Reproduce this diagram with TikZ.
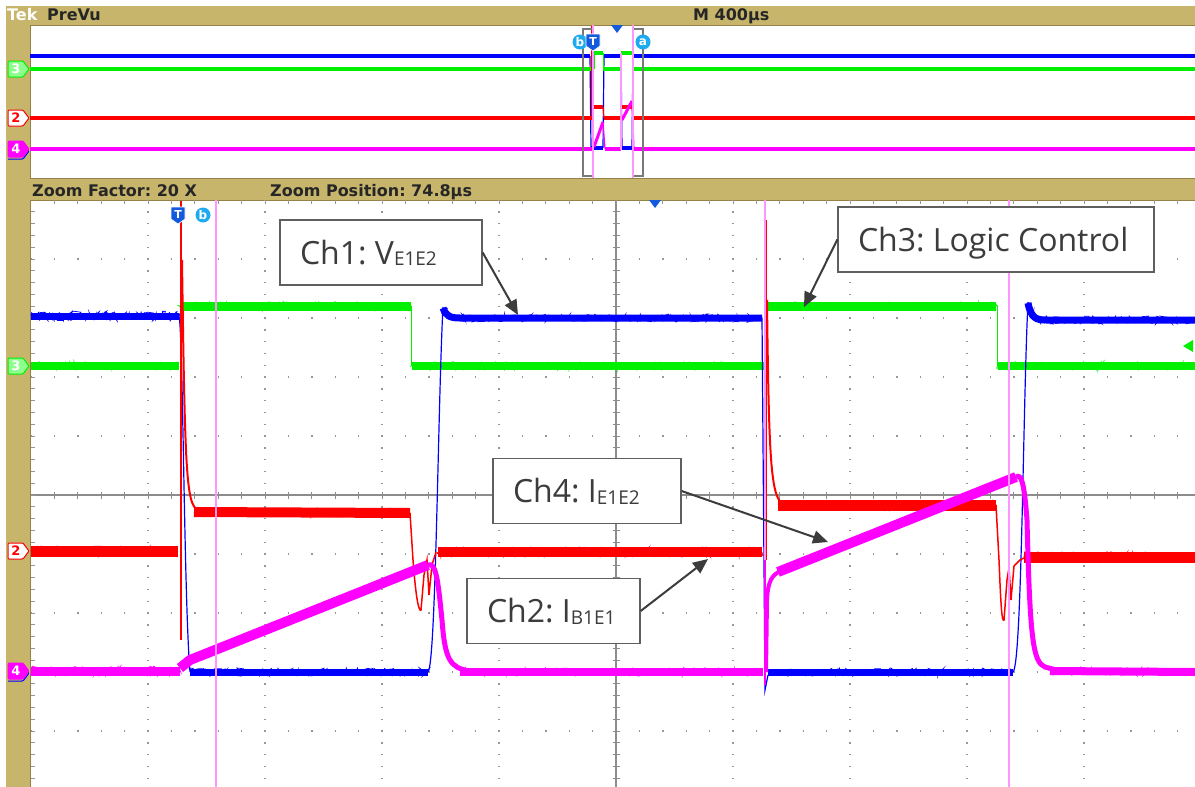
\documentclass[tikz,border=0pt]{standalone}
\usepackage{fontspec}
\setmainfont{Open Sans}
\newfontfamily\tekfont{DejaVu Sans}
\usetikzlibrary{arrows.meta,decorations.pathmorphing}
\definecolor{scopetan}{RGB}{199,181,108}
\definecolor{scopeedge}{RGB}{150,130,70}
\definecolor{chblue}{RGB}{0,0,255}
\definecolor{chgreen}{RGB}{0,240,0}
\definecolor{chred}{RGB}{255,0,0}
\definecolor{chmag}{RGB}{255,0,255}
\definecolor{pinkcur}{RGB}{255,150,255}
\definecolor{gridgray}{RGB}{150,150,150}
\definecolor{centergray}{RGB}{140,140,140}
\definecolor{annotext}{RGB}{60,60,60}
\definecolor{annotedge}{RGB}{95,95,95}
\definecolor{marklblue}{RGB}{30,170,240}
\definecolor{markdblue}{RGB}{20,90,220}
\definecolor{bracketgray}{RGB}{120,120,120}
\newcommand\bandline[4]{%
  \draw[#1,line width=#2] #4;
  \draw[#1,line width=0.7pt,decorate,decoration={random steps,segment length=1.3pt,amplitude=#3}] #4;}
\newcommand\subtxt[1]{{\fontsize{19}{20}\selectfont\raisebox{-1.5pt}{#1}}}
\newcommand\chtag[6]{%
  \draw[fill=#2,draw=#3,line width=1pt,rounded corners=1pt] (8,#1-8) -- (23,#1-8) -- (29,#1) -- (23,#1+8) -- (8,#1+8) -- cycle;
  \node[tagtext,text=#4] (#6) at (16,#1) {#5};}
\newcommand\annbox[2]{\makebox[#1][l]{#2}}
\begin{document}
\frenchspacing
\begin{tikzpicture}[x=1pt,y=-1pt,
  tektext/.style={font=\tekfont\bfseries\fontsize{16}{18}\selectfont, inner sep=0pt, anchor=base west, text=black!85},
  tagtext/.style={font=\tekfont\bfseries\fontsize{13}{14}\selectfont, inner sep=0pt},
  annot/.style={draw=annotedge, line width=1.3pt, fill=white, text=annotext,
    font=\fontsize{32}{38}\selectfont\frenchspacing, inner xsep=20pt, inner ysep=0pt,
    text height=23pt, text depth=0pt, minimum height=65pt},
  annarrow/.style={draw=annotext, line width=2pt, -{Triangle[length=15pt,width=13pt]}},
  circmark/.style={circle, fill=marklblue, text=white, inner sep=0pt, minimum size=15pt,
    font=\tekfont\bfseries\fontsize{12}{12}\selectfont},
  gridv/.style={gridgray, line width=1.4pt, dash pattern=on 1.4pt off 10.4pt, dash phase=0.7pt},
  gridh/.style={gridgray, line width=1.4pt, dash pattern=on 1.4pt off 22pt, dash phase=0.7pt}]
\pgfmathsetseed{7}
\useasboundingbox (0,0) rectangle (1195,787);
\fill[white] (0,0) rectangle (1195,787);
% frame
\fill[scopetan] (6,6) rectangle (1195,200);
\fill[scopetan] (6,6) rectangle (30,787);
\fill[white] (30,25) rectangle (1195,178);
\draw[scopeedge,line width=0.8pt] (30,25) rectangle (1196,178);
\fill[white] (31,200) rectangle (1195,787);
\draw[scopeedge,line width=1pt] (1195,200) -- (30.5,200) -- (30.5,787);
% header texts
\node[tektext,text=white] (tek) at (7,20.5) {Tek};
\node[tektext] (prevu) at (47,20.5) {PreVu};
\node[tektext] (mtime) at (693,20.5) {M 400µs};
\node[tektext] (zf) at (32,196) {Zoom Factor: 20 X};
\node[tektext] (zp) at (270,196) {Zoom Position: 74.8µs};
% ---------- main graticule ----------
\foreach \k in {1,2,3,4,6,7,8,9}{\draw[gridv] ({31+117*\k},200) -- ({31+117*\k},787);}
\foreach \k in {1,2,3,4,6,7,8,9}{\draw[gridh] (31,{200+59*\k}) -- (1195,{200+59*\k});}
\draw[centergray,line width=1.2pt] (616,200) -- (616,787);
\draw[centergray,line width=1.2pt] (31,495) -- (1195,495);
\foreach \t in {1,...,49}{\draw[centergray,line width=1pt] (612.5,{200+11.8*\t}) -- (619.5,{200+11.8*\t});}
\foreach \t in {1,...,49}{\draw[centergray,line width=1pt] ({31+23.4*\t},491.5) -- ({31+23.4*\t},498.5);}
\foreach \t in {1,...,49}{\draw[gridgray,line width=1pt] ({31+23.4*\t},200) -- ({31+23.4*\t},204);}
\foreach \t in {1,...,49}{\draw[gridgray,line width=1pt] (31,{200+11.8*\t}) -- (35,{200+11.8*\t});}
% ---------- PreVu traces ----------
\draw[chblue,line width=4pt] (30,56) -- (590,56);
\draw[chblue,line width=1.2pt] (590,56) -- (591,148);
\draw[chblue,line width=4pt] (591,148) -- (603,148);
\draw[chblue,line width=1.2pt] (603,148) -- (604,56);
\draw[chblue,line width=4pt] (604,56) -- (621,56);
\draw[chblue,line width=1.2pt] (621,56) -- (622,148);
\draw[chblue,line width=4pt] (622,148) -- (632,148);
\draw[chblue,line width=1.2pt] (632,148) -- (633,56);
\draw[chblue,line width=4pt] (633,56) -- (1195,56);
\draw[chgreen,line width=4pt] (30,69) -- (594,69);
\draw[chgreen,line width=1pt] (594,69) -- (594,53);
\draw[chgreen,line width=4pt] (594,53) -- (603,53);
\draw[chgreen,line width=1pt] (603,53) -- (603,69);
\draw[chgreen,line width=4pt] (603,69) -- (621,69);
\draw[chgreen,line width=1pt] (621,69) -- (621,53);
\draw[chgreen,line width=4pt] (621,53) -- (632,53);
\draw[chgreen,line width=1pt] (632,53) -- (632,69);
\draw[chgreen,line width=4pt] (632,69) -- (1195,69);
\draw[chred,line width=4pt] (30,118) -- (593,118);
\draw[chred,line width=1.2pt] (592,26) -- (592,118);
\draw[chred,line width=4pt] (594,107) -- (603,107);
\draw[chred,line width=1.2pt] (603,107) -- (604,118);
\draw[chred,line width=4pt] (604,118) -- (621,118);
\draw[chred,line width=4pt] (622,107) -- (632,107);
\draw[chred,line width=1.2pt] (632,107) -- (633,118);
\draw[chred,line width=4pt] (633,118) -- (1195,118);
\draw[chmag,line width=4pt] (30,149) -- (593,149);
\draw[chmag,line width=3pt] (594,147) -- (603,122);
\draw[chmag,line width=1.2pt] (603,122) -- (605,149);
\draw[chmag,line width=4pt] (605,149) -- (621,149);
\draw[chmag,line width=3pt] (622,120) -- (632,101);
\draw[chmag,line width=1.2pt] (632,101) -- (634,149);
\draw[chmag,line width=4pt] (634,149) -- (1195,149);
\draw[pinkcur,line width=1.2pt] (593,25) -- (593,178);
\draw[pinkcur,line width=1.2pt] (633,25) -- (633,178);
\draw[pinkcur,line width=1.2pt] (621,53) -- (621,150);
% bracket
\draw[bracketgray,line width=1.3pt] (592,29) -- (583,29) -- (583,176) -- (592,176);
\draw[bracketgray,line width=1.3pt] (634,29) -- (643,29) -- (643,176) -- (634,176);
% top markers
\node[circmark] (tb) at (580,42) {b};
\draw[fill=markdblue,draw=white,line width=0.6pt] (586,34) -- (600,34) -- (600,46) -- (593,51) -- (586,46) -- cycle;
\node[text=white,font=\tekfont\bfseries\fontsize{11}{11}\selectfont,inner sep=0pt] (tT) at (593,41.5) {T};
\node[circmark] (ta) at (643,42) {a};
\fill[markdblue] (611,25) -- (623,25) -- (617,33) -- cycle;
% ---------- main traces ----------
% Ch3 green
\bandline{chgreen}{8pt}{4pt}{(31,366) -- (179,366)}
\draw[chgreen,line width=1pt] (180,366) -- (180,306);
\bandline{chgreen}{9pt}{4pt}{(180,306) -- (411,306)}
\draw[chgreen,line width=1pt] (411,306) -- (411,366);
\bandline{chgreen}{8pt}{4pt}{(412,366) -- (764,366)}
\draw[chgreen,line width=1pt] (765,366) -- (765,306);
\bandline{chgreen}{9pt}{4pt}{(765,306) -- (996,306)}
\draw[chgreen,line width=1pt] (997,306) -- (997,366);
\bandline{chgreen}{8pt}{4pt}{(998,366) -- (1195,366)}
% Ch1 blue
\bandline{chblue}{7pt}{5pt}{(31,316) -- (179,316)}
\draw[chblue,line width=1.2pt] (179,316) .. controls (183,330) and (184,600) .. (190,672);
\bandline{chblue}{7pt}{4pt}{(190,672) -- (428,672)}
\draw[chblue,line width=1.2pt] (428,672) .. controls (436,665) and (438,400) .. (443,307);
\bandline{chblue}{7pt}{4pt}{(443,308) .. controls (446,316) and (450,318) .. (460,318) -- (762,318)}
\draw[chblue,line width=1.2pt] (762,318) -- (765,690) -- (768,675);
\bandline{chblue}{7pt}{4pt}{(768,672) -- (1013,672)}
\draw[chblue,line width=1.2pt] (1013,672) .. controls (1022,665) and (1023,400) .. (1028,302);
\bandline{chblue}{7pt}{4pt}{(1028,303) .. controls (1031,318) and (1036,320) .. (1046,320) -- (1195,320)}
% Ch2 red
\bandline{chred}{11pt}{5pt}{(31,551) -- (178,551)}
\draw[chred,line width=1.2pt] (181,201) -- (181,640);
\draw[chred,line width=2pt] (182,260) .. controls (185,470) and (186,505) .. (198,510);
\bandline{chred}{10pt}{4pt}{(194,512) -- (410,513)}
\draw[chred,line width=1.5pt] (410,513) -- (413,560) .. controls (416,600) and (419,612) .. (421,610) -- (424,575) -- (427,560) -- (429,595) -- (432,565) -- (436,552);
\bandline{chred}{10pt}{5pt}{(438,552) -- (762,552)}
\draw[chred,line width=1.2pt] (766,220) -- (766,560);
\draw[chred,line width=2pt] (767,300) .. controls (769,470) and (771,500) .. (785,505);
\bandline{chred}{11pt}{4pt}{(778,505) -- (996,505)}
\draw[chred,line width=1.5pt] (996,505) -- (999,560) .. controls (1001,610) and (1002,622) .. (1004,620) -- (1007,580) -- (1009,568) -- (1011,600) -- (1014,566) -- (1020,560) -- (1026,557);
\bandline{chred}{11pt}{5pt}{(1024,557) -- (1195,557)}
% Ch4 magenta
\bandline{chmag}{9pt}{5pt}{(31,671) -- (180,671)}
\bandline{chmag}{10pt}{3pt}{(180,668) -- (190,660) -- (428,565)}
\draw[chmag,line width=5pt] (428,565) .. controls (436,562) and (438,580) .. (442,620) .. controls (445,660) and (450,668) .. (470,671);
\bandline{chmag}{8pt}{4pt}{(460,672) -- (763,672)}
\draw[pinkcur,line width=1.2pt] (765,200) -- (765,560);
\draw[chmag,line width=2.5pt] (765,560) -- (765,685);
\draw[chmag,line width=4pt] (766,672) -- (767,600) .. controls (768,580) and (772,575) .. (782,570);
\bandline{chmag}{10pt}{3pt}{(778,572) -- (1016,477)}
\draw[chmag,line width=5pt] (1016,477) .. controls (1021,474) and (1024,480) .. (1027,520) .. controls (1030,640) and (1033,662) .. (1045,667) -- (1060,671);
\bandline{chmag}{8pt}{4pt}{(1050,671) -- (1195,672)}
% cursors
\draw[pinkcur,line width=1.5pt] (216,200) -- (216,787);
\draw[pinkcur,line width=1.5pt] (1009,200) -- (1009,787);
% main markers
\draw[fill=markdblue,draw=white,line width=0.6pt] (171,207) -- (185,207) -- (185,219) -- (178,224) -- (171,219) -- cycle;
\node[text=white,font=\tekfont\bfseries\fontsize{11}{11}\selectfont,inner sep=0pt] (mT) at (178,214.5) {T};
\node[circmark] (mb) at (203,215) {b};
\fill[markdblue] (649,200) -- (661,200) -- (655,208) -- cycle;
\fill[chgreen] (1183,346) -- (1193,340) -- (1193,352) -- cycle;
% channel tags
\chtag{69}{green!45!white}{chgreen}{white}{3}{t3}
\chtag{118}{white}{chred}{chred}{2}{t2}
\draw[draw=chblue,line width=1pt,rounded corners=1pt] (8,149-6) -- (23,149-6) -- (29,149+2) -- (23,149+10) -- (8,149+10);
\chtag{149}{chmag}{chmag}{white}{4}{t4}
\chtag{366}{green!45!white}{chgreen}{white}{3}{m3}
\chtag{551}{white}{chred}{chred}{2}{m2}
\draw[draw=chblue,line width=1pt,rounded corners=1pt] (8,671-6) -- (23,671-6) -- (29,671+2) -- (23,671+10) -- (8,671+10);
\chtag{671}{chmag}{chmag}{white}{4}{m4}
% ---------- annotations ----------
\node[annot] (c1) at (381,252.5) {\annbox{162pt}{Ch1: V\subtxt{E1E2}}};
\node[annot] (c3) at (996,239.5) {\annbox{276pt}{Ch3: Logic Control}};
\node[annot] (c4) at (587,491) {\annbox{148pt}{Ch4: I\subtxt{E1E2}}};
\node[annot] (c2) at (553.5,611) {\annbox{133pt}{Ch2: I\subtxt{B1E1}}};
\coordinate (p1) at (518,315);
\coordinate (p3) at (804,307);
\coordinate (p4) at (828,542);
\coordinate (p2) at (708,559);
\draw[annarrow] (c1.east) -- (p1);
\draw[annarrow] (c3.west) -- (p3);
\draw[annarrow] (c4.east) -- (p4);
\draw[annarrow] (c2.east) -- (p2);
\end{tikzpicture}
\end{document}
